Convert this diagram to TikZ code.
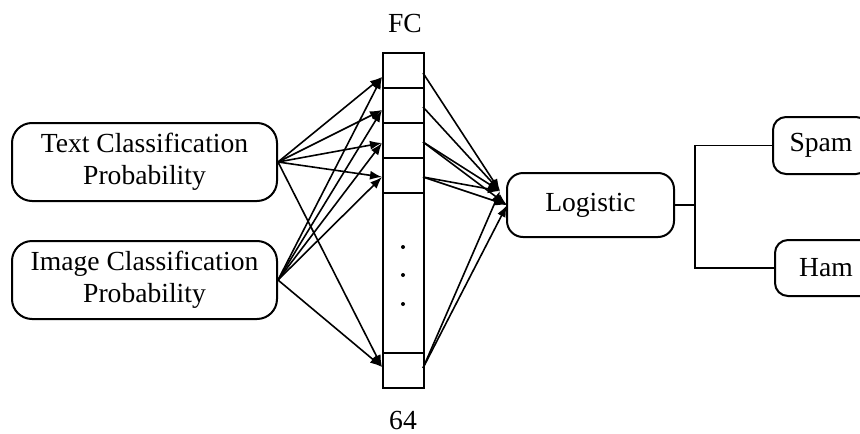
\documentclass[tikz,border=0pt]{standalone}
\usepackage{fontspec}
\setmainfont{Liberation Serif}
\usetikzlibrary{arrows.meta}
\begin{document}
\begin{tikzpicture}[x=1pt,y=-1pt,
  txt/.style={font=\fontsize{27.6}{32}\selectfont},
  tag/.style={txt,inner sep=0pt},
  box/.style={draw,line width=2pt,align=center,inner sep=0pt,txt},
  inbox/.style={box,rounded corners=20pt,minimum width=265pt,minimum height=78pt},
  cell/.style={draw,line width=2pt,minimum width=41pt,inner sep=0pt,outer sep=0pt},
  link/.style={line width=1.6pt,-{Latex[length=12pt,width=9pt]}},
  wire/.style={line width=1.7pt}
]
\useasboundingbox (0,0) rectangle (860,434);
\clip (0,0) rectangle (860,434);

% input boxes
\node[inbox] (text)  at (144.5,162) {Text Classification\\Probability};
\node[inbox] (image) at (144.5,280) {Image Classification\\Probability};

% fully connected layer
\node[cell,minimum height=35pt]  (c1)  at (403,70.5)  {};
\node[cell,minimum height=35pt]  (c2)  at (403,105.5) {};
\node[cell,minimum height=35pt]  (c3)  at (403,140.5) {};
\node[cell,minimum height=35pt]  (c4)  at (403,175.5) {};
\node[cell,minimum height=160pt] (mid) at (403,273)   {};
\node[cell,minimum height=35pt]  (c5)  at (403,370.5) {};
\foreach \y in {247,275,304} \fill (403,\y) circle (2pt);
\node[tag] (fc)  at (405,23)  {FC};
\node[tag] (num) at (403,420) {64};

% logistic and outputs
\node[box,rounded corners=16pt,minimum width=167pt,minimum height=64pt] (logit) at (590.5,205) {Logistic};
\node[box,rounded corners=13pt,minimum width=96pt,minimum height=57pt] (spam) at (821,145.5) {Spam};
\node[box,rounded corners=13pt,minimum width=102pt,minimum height=56pt] (ham) at (826,268) {Ham};

% arrow end points on the layer and the logistic box
\coordinate (i1) at (382,77);
\coordinate (i2) at (382,110);
\coordinate (i3) at (382,143);
\coordinate (i4) at (382,177);
\coordinate (i5) at (382,367);
\coordinate (o1) at (423,73);
\coordinate (o2) at (423,107);
\coordinate (o3) at (423,142);
\coordinate (o4) at (423,177);
\coordinate (o5) at (423,368);
\coordinate (t1) at (500,191);
\coordinate (t2) at (507,205);

\foreach \s in {text,image}
  \foreach \k in {1,...,5}
    \draw[link] (\s.east) -- (i\k);

\foreach \k in {1,2}
  \draw[link] (o\k) -- (t1);
\foreach \k in {3,4,5}{
  \draw[link] (o\k) -- (t1);
  \draw[link] (o\k) -- (t2);
}

% decision fork
\draw[wire] (logit.east) -- ++(20,0) coordinate (fork);
\draw[wire] (spam.west) -| (fork) |- (ham.west);
\end{tikzpicture}
\end{document}
